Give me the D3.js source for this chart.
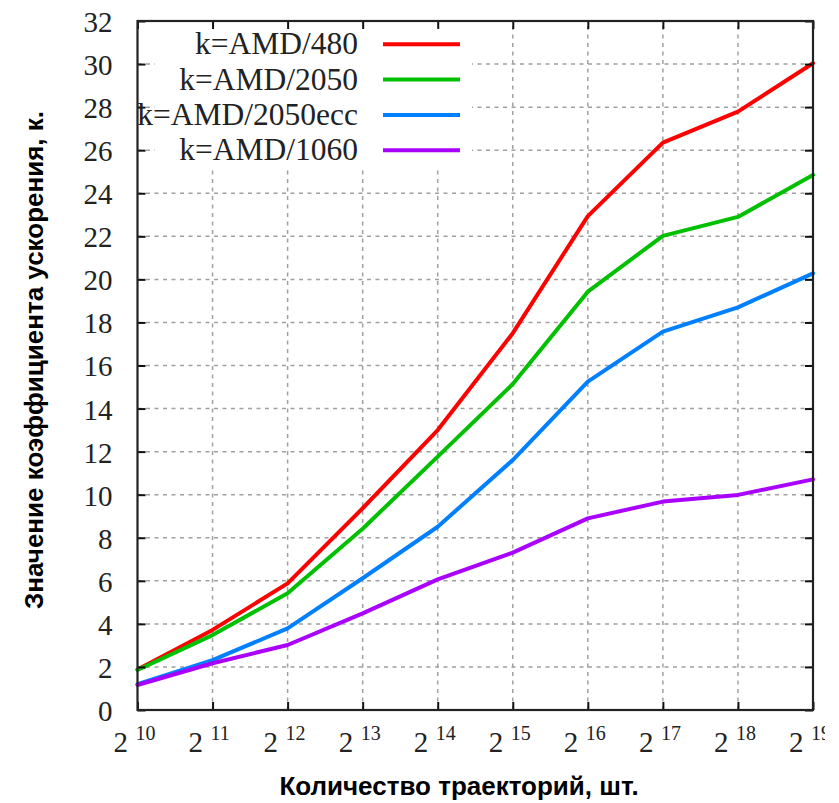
<!DOCTYPE html>
<html>
<head>
<meta charset="utf-8">
<script src="https://cdn.jsdelivr.net/npm/d3@7"></script>
<style>
  html, body { margin: 0; padding: 0; background: #fff; }
  svg { display: block; }
</style>
</head>
<body>
<svg id="chart" width="839" height="803"></svg>
<script>
// ---- data ----
const exponents = [10, 11, 12, 13, 14, 15, 16, 17, 18, 19];
const trajectories = exponents.map(e => Math.pow(2, e));
const seriesNames = ["k=AMD/480", "k=AMD/2050", "k=AMD/2050ecc", "k=AMD/1060"];
const amd480     = [1.88, 3.72, 5.88, 9.37, 13.0, 17.5, 22.94, 26.35, 27.79, 30.04];
const amd2050    = [1.86, 3.48, 5.42, 8.42, 11.77, 15.14, 19.43, 22.02, 22.9, 24.85];
const amd2050ecc = [1.2, 2.32, 3.79, 6.12, 8.51, 11.61, 15.25, 17.57, 18.7, 20.28];
const amd1060    = [1.16, 2.17, 3.02, 4.49, 6.07, 7.31, 8.9, 9.68, 9.99, 10.71];
const yTicks = [0, 2, 4, 6, 8, 10, 12, 14, 16, 18, 20, 22, 24, 26, 28, 30, 32];
const xTitle = "Количество траекторий, шт.";
const yTitle = "Значение коэффициента ускорения, к.";
const colors = ["#ff0000", "#00c000", "#0080ff", "#aa00ff"];

const seriesValues = [amd480, amd2050, amd2050ecc, amd1060];

const svg = d3.select("#chart");
const L = 137.5, R = 813, T = 21, B = 710;

const x = d3.scaleLog().base(2).domain([Math.pow(2, 10), Math.pow(2, 19)]).range([L, R]);
const y = d3.scaleLinear().domain([0, 32]).range([B, T]);

// grid
const grid = svg.append("g").attr("stroke", "#a0a0a0").attr("stroke-width", 1.5)
  .attr("stroke-dasharray", "4,4.5").attr("fill", "none");
grid.selectAll("line.h").data(yTicks.filter(v => v > 0 && v < 32)).join("line")
  .attr("x1", L).attr("x2", R).attr("y1", d => y(d)).attr("y2", d => y(d));
grid.selectAll("line.v").data(trajectories.slice(1, -1)).join("line")
  .attr("x1", d => x(d)).attr("x2", d => x(d)).attr("y1", B).attr("y2", T);

// legend background
svg.append("rect").attr("x", 155).attr("y", 23).attr("width", 317).attr("height", 145).attr("fill", "#fff");

// lines
const line = d3.line().x((d, i) => x(trajectories[i])).y(d => y(d)).curve(d3.curveLinear);
svg.append("g").selectAll("path").data(seriesValues).join("path")
  .attr("d", d => line(d)).attr("fill", "none")
  .attr("stroke", (d, i) => colors[i]).attr("stroke-width", 4)
  .attr("stroke-linejoin", "round").attr("stroke-linecap", "round");

// axes (ticks inward, mirrored)
const tickLen = 8;
const axL = svg.append("g").attr("transform", `translate(${L},0)`)
  .call(d3.axisLeft(y).tickValues(yTicks).tickSize(-tickLen).tickPadding(27).tickFormat(d3.format("d")));
const axR = svg.append("g").attr("transform", `translate(${R},0)`)
  .call(d3.axisRight(y).tickValues(yTicks).tickSize(-tickLen).tickFormat(""));
const axB = svg.append("g").attr("transform", `translate(0,${B})`)
  .call(d3.axisBottom(x).tickValues(trajectories).tickSize(-tickLen).tickFormat(""));
const axT = svg.append("g").attr("transform", `translate(0,${T})`)
  .call(d3.axisTop(x).tickValues(trajectories).tickSize(-tickLen).tickFormat(""));
[axL, axR, axB, axT].forEach(a => {
  a.select(".domain").remove();
  a.selectAll(".tick line").attr("stroke", "#111").attr("stroke-width", 2);
});
axL.selectAll(".tick text").attr("font-family", "Liberation Serif, serif").attr("font-size", 29)
  .attr("fill", "#222").attr("dy", "0.36em").attr("dx", 2);

// frame
svg.append("rect").attr("x", L).attr("y", T).attr("width", R - L).attr("height", B - T)
  .attr("fill", "none").attr("stroke", "#222").attr("stroke-width", 2.2);

// x tick labels 2^n
svg.append("clipPath").attr("id", "xclip").append("rect").attr("x", 0).attr("y", 0).attr("width", 825).attr("height", 803);
const xl = svg.append("g").attr("clip-path", "url(#xclip)")
  .attr("font-family", "Liberation Serif, serif").attr("fill", "#222");
xl.selectAll("text.base").data(exponents).join("text").attr("class", "base")
  .attr("x", (d, i) => x(trajectories[i]) - 9.5).attr("y", 752)
  .attr("text-anchor", "end").attr("font-size", 29).text("2");
xl.selectAll("text.sup").data(exponents).join("text").attr("class", "sup")
  .attr("x", (d, i) => x(trajectories[i]) - 2).attr("y", 740)
  .attr("text-anchor", "start").attr("font-size", 20).text(d => d);

// legend
const lg = svg.append("g");
const rowY = i => 44.3 + i * 35.3;
lg.selectAll("text").data(seriesNames).join("text")
  .attr("x", 358).attr("y", (d, i) => rowY(i) + 10)
  .attr("text-anchor", "end").attr("font-family", "Liberation Serif, serif")
  .attr("font-size", 31.5).attr("fill", "#222").text(d => d);
lg.selectAll("line").data(seriesNames).join("line")
  .attr("x1", 383).attr("x2", 460).attr("y1", (d, i) => rowY(i)).attr("y2", (d, i) => rowY(i))
  .attr("stroke", (d, i) => colors[i]).attr("stroke-width", 4);

// axis titles
svg.append("text").attr("x", 459).attr("y", 795).attr("text-anchor", "middle")
  .attr("font-family", "Liberation Sans, Arial, sans-serif").attr("font-weight", "bold")
  .attr("font-size", 26).attr("fill", "#000").text(xTitle);
svg.append("text").attr("transform", "translate(43,360) rotate(-90)").attr("text-anchor", "middle")
  .attr("font-family", "Liberation Sans, Arial, sans-serif").attr("font-weight", "bold")
  .attr("font-size", 26).attr("fill", "#000").text(yTitle);
</script>
</body>
</html>
